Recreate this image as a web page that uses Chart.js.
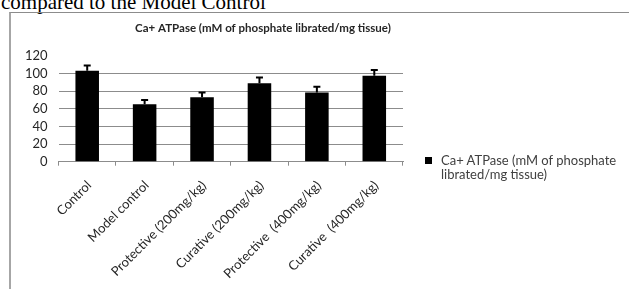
<!DOCTYPE html>
<html>
<head>
<meta charset="utf-8">
<script src="https://cdn.jsdelivr.net/npm/chart.js@4.4.1/dist/chart.umd.min.js"></script>
<style>
  html, body { margin: 0; padding: 0; background: #fff; }
  body { width: 629px; height: 289px; position: relative; overflow: hidden; }
  #caption {
    position: absolute; left: 1px; top: -8px;
    font: 21px/21px "Liberation Serif", serif; color: #000; white-space: nowrap;
  }
  #frame {
    position: absolute; left: 9px; top: 12px; width: 640px; height: 300px;
    border-left: 2px solid #a6a6a6; border-top: 1px solid #8c8c8c;
  }
  #wrap { position: absolute; left: 10px; top: 13px; width: 506px; height: 276px; }
  #legend {
    position: absolute; left: 425px; top: 153px;
    font: 13px/14px Lato, sans-serif; color: #404040; white-space: nowrap;
  }
  #legend .box {
    position: absolute; left: 0; top: 4px; width: 7px; height: 7px; background: #000;
  }
  #legend .txt { position: absolute; left: 16px; top: 0; }
</style>
</head>
<body>
<div id="caption">compared to the Model Control</div>
<div id="frame"></div>
<div id="wrap"><canvas id="chart" width="506" height="276"></canvas></div>
<div id="legend"><span class="box"></span><span class="txt">Ca+ ATPase (mM of phosphate<br>librated/mg tissue)</span></div>
<script>
// 데이터
const categories = [
    "Control",
    "Model control",
    "Protective (200mg/kg)",
    "Curative (200mg/kg)",
    "Protective  (400mg/kg)",
    "Curative  (400mg/kg)",
];
const atpaseValues = [103, 65, 73, 89, 78.5, 97.5];
const atpaseErrors = [6, 5, 5.5, 6.5, 6.5, 6.5];
const yTicks = [0, 20, 40, 60, 80, 100, 120];
const seriesLabel = "Ca+ ATPase (mM of phosphate librated/mg tissue)";

// 에러바 그리기 (y 스케일 기준)
const errorBarPlugin = {
    id: "errorBars",
    afterDatasetsDraw(chart) {
        const ctx = chart.ctx;
        const yScale = chart.scales.y;
        const meta = chart.getDatasetMeta(0);
        ctx.save();
        ctx.strokeStyle = "#000";
        ctx.lineWidth = 2;
        meta.data.forEach((bar, i) => {
            const top = yScale.getPixelForValue(atpaseValues[i] + atpaseErrors[i]);
            ctx.beginPath();
            ctx.moveTo(bar.x, bar.y);
            ctx.lineTo(bar.x, top);
            ctx.moveTo(bar.x - 3.5, top);
            ctx.lineTo(bar.x + 3.5, top);
            ctx.stroke();
        });
        ctx.restore();
    },
};

const gridGray = "#8c8c8c";

new Chart(document.getElementById("chart").getContext("2d"), {
    type: "bar",
    data: {
        labels: categories,
        datasets: [
            {
                label: seriesLabel,
                data: atpaseValues,
                backgroundColor: "#000",
                borderWidth: 0,
                categoryPercentage: 1,
                barPercentage: 0.41,
            },
        ],
    },
    options: {
        responsive: false,
        animation: false,
        layout: { padding: 0 },
        scales: {
            x: {
                afterFit: (s) => { s.height = 127.3; },
                grid: {
                    display: true,
                    drawOnChartArea: false,
                    drawTicks: true,
                    tickLength: 4,
                    color: gridGray,
                },
                border: { display: true, color: gridGray },
                ticks: {
                    minRotation: 45,
                    maxRotation: 45,
                    autoSkip: false,
                    padding: 12,
                    labelOffset: 2,
                    color: "#262626",
                    font: { family: "Lato", size: 13 },
                },
            },
            y: {
                min: 0,
                max: 120,
                afterFit: (s) => { s.width = 48.5; },
                afterBuildTicks: (s) => { s.ticks = yTicks.map((v) => ({ value: v })); },
                grid: {
                    drawTicks: false,
                    color: (c) => (c.tick && c.tick.value === 120 ? "rgba(0,0,0,0)" : gridGray),
                },
                border: { display: false },
                ticks: {
                    autoSkip: false,
                    padding: 11,
                    color: "#262626",
                    font: { family: "Lato", size: 13 },
                },
            },
            // 오른쪽 여백용 (범례 자리)
            yRight: {
                position: "right",
                display: true,
                afterFit: (s) => { s.width = 113; },
                grid: { display: false },
                border: { display: false },
                ticks: { display: false },
            },
        },
        plugins: {
            legend: { display: false },
            tooltip: { enabled: false },
            title: {
                display: true,
                text: seriesLabel,
                color: "#262626",
                font: { family: "Lato", size: 11.5, weight: "bold" },
                padding: { top: 8, bottom: 21 },
            },
        },
    },
    plugins: [errorBarPlugin],
});
</script>
</body>
</html>
